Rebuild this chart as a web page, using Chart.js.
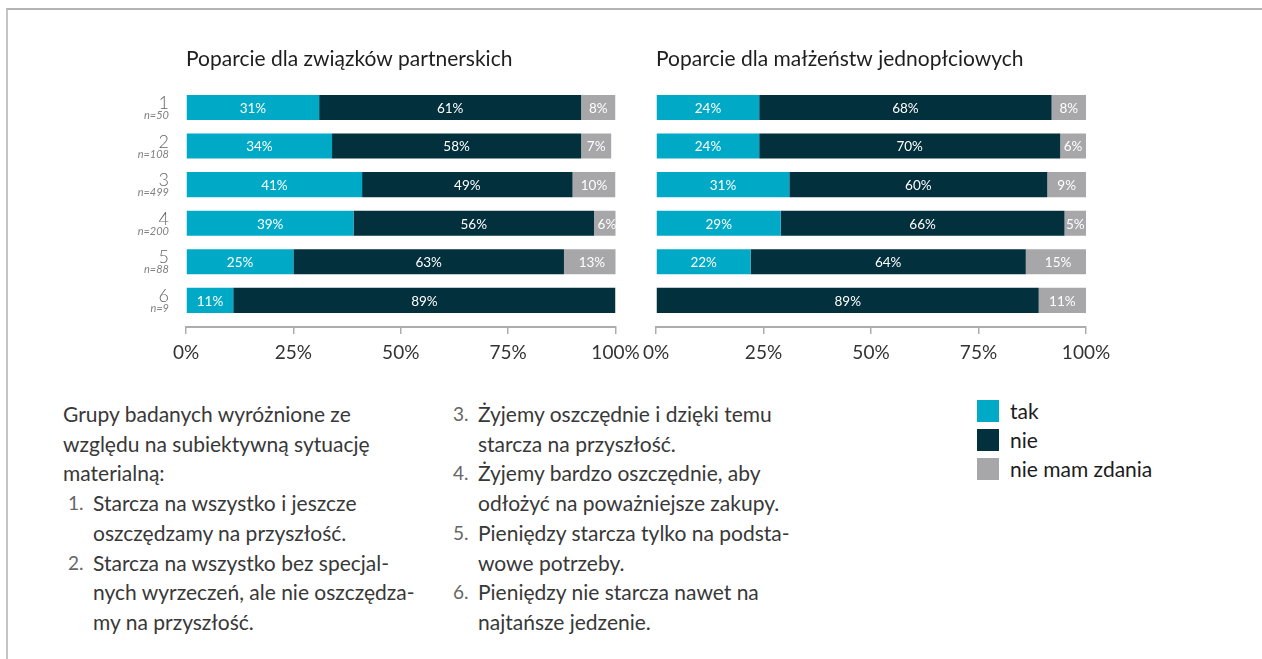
<!DOCTYPE html>
<html lang="pl">
<head>
<meta charset="utf-8">
<script src="https://cdn.jsdelivr.net/npm/chart.js@4"></script>
<style>
  body { margin: 0; background: #fff; font-family: Lato, sans-serif; }
  #page { position: relative; width: 1262px; height: 659px; overflow: hidden; }
  #frame { position: absolute; left: 6px; top: 8px; right: -10px; bottom: -10px;
           border-top: 2px solid #b3b3b3; border-left: 2px solid #c4c4c4; }
  canvas { position: absolute; }
  #left { left: 100px; top: 40px; }
  #right { left: 621px; top: 40px; }
  .col { position: absolute; top: 399px; font-size: 21px; line-height: 29.7px; color: #383838; }
  .col p { margin: 0; }
  .item { position: relative; padding-left: 30px; }
  .item span { position: absolute; left: 5px; color: #666; font-size: 19px; }
  #legend { position: absolute; left: 977px; top: 400px; font-size: 21px; color: #1c1c1c; }
  #legend div { position: relative; height: 29px; padding-left: 33px; line-height: 22px; }
  #legend i { position: absolute; left: 0; top: 0; width: 22px; height: 22px; }
</style>
</head>
<body>
<div id="page">
  <div id="frame"></div>
  <canvas id="left" width="561" height="353"></canvas>
  <canvas id="right" width="511" height="353"></canvas>

  <div class="col" style="left:63px">
    <p>Grupy badanych wyróżnione ze<br>względu na subiektywną sytuację<br>materialną:</p>
    <div class="item"><span>1.</span>Starcza na wszystko i jeszcze<br>oszczędzamy na przyszłość.</div>
    <div class="item"><span>2.</span>Starcza na wszystko bez specjal-<br>nych wyrzeczeń, ale nie oszczędza-<br>my na przyszłość.</div>
  </div>
  <div class="col" style="left:448px">
    <div class="item"><span>3.</span>Żyjemy oszczędnie i dzięki temu<br>starcza na przyszłość.</div>
    <div class="item"><span>4.</span>Żyjemy bardzo oszczędnie, aby<br>odłożyć na poważniejsze zakupy.</div>
    <div class="item"><span>5.</span>Pieniędzy starcza tylko na podsta-<br>wowe potrzeby.</div>
    <div class="item"><span>6.</span>Pieniędzy nie starcza nawet na<br>najtańsze jedzenie.</div>
  </div>
  <div id="legend"></div>
</div>
<script>
// grupy i liczebności
const groups = ["1", "2", "3", "4", "5", "6"];
const sampleSizes = ["n=50", "n=108", "n=499", "n=200", "n=88", "n=9"];

// odpowiedzi
const answers = ["tak", "nie", "nie mam zdania"];
const answerColors = ["#00aac7", "#03303d", "#a7a7aa"];

// Poparcie dla związków partnerskich (%)
const partnersTak = [31, 34, 41, 39, 25, 11];
const partnersNie = [61, 58, 49, 56, 63, 89];
const partnersBrak = [8, 7, 10, 6, 13, 0];

// Poparcie dla małżeństw jednopłciowych (%)
const marriageTak = [24, 24, 31, 29, 22, 0];
const marriageNie = [68, 70, 60, 66, 64, 89];
const marriageBrak = [8, 6, 9, 5, 15, 11];

// legenda
document.getElementById("legend").innerHTML = answers
    .map((a, i) => `<div><i style="background:${answerColors[i]}"></i>${a}</div>`)
    .join("");

// procenty w środku segmentów
const segmentLabels = {
    id: "segmentLabels",
    afterDatasetsDraw(chart) {
        const ctx = chart.ctx;
        ctx.save();
        ctx.font = "13.5px Lato";
        ctx.fillStyle = "#ffffff";
        ctx.textAlign = "center";
        ctx.textBaseline = "middle";
        chart.data.datasets.forEach((ds, i) => {
            chart.getDatasetMeta(i).data.forEach((bar, j) => {
                const v = ds.data[j];
                if (!v) return;
                const p = bar.getProps(["x", "y", "base"], true);
                ctx.fillText(v + "%", (p.x + p.base) / 2, p.y + 1);
            });
        });
        ctx.restore();
    },
};

// etykiety grup (numer + n) po lewej stronie
const groupLabels = {
    id: "groupLabels",
    afterDraw(chart) {
        const ctx = chart.ctx, yScale = chart.scales.y;
        const x = chart.chartArea.left - 17;
        ctx.save();
        ctx.textAlign = "right";
        ctx.textBaseline = "alphabetic";
        groups.forEach((g, i) => {
            const y = yScale.getPixelForValue(i);
            ctx.font = "300 18px Lato";
            ctx.fillStyle = "#666";
            ctx.fillText(g, x, y + 1.5);
            ctx.font = "italic 11px Lato";
            ctx.fillStyle = "#808080";
            ctx.fillText(sampleSizes[i], x, y + 11.5);
        });
        ctx.restore();
    },
};

function makeChart(id, title, tak, nie, brak, padding, extra) {
    return new Chart(document.getElementById(id), {
        type: "bar",
        plugins: [segmentLabels].concat(extra),
        data: {
            labels: groups,
            datasets: [tak, nie, brak].map((d, i) => ({
                label: answers[i],
                data: d,
                backgroundColor: answerColors[i],
                barPercentage: 0.65,
                categoryPercentage: 1,
            })),
        },
        options: {
            indexAxis: "y",
            responsive: false,
            animation: false,
            layout: { padding: padding },
            scales: {
                x: {
                    stacked: true,
                    min: 0,
                    max: 100,
                    // oś trochę poniżej ostatniego słupka
                    position: { y: 5.68 },
                    grid: {
                        drawOnChartArea: false,
                        drawTicks: true,
                        tickLength: 6,
                        color: "#adadad",
                        lineWidth: 1.5,
                    },
                    border: { display: true, color: "#adadad", width: 2 },
                    ticks: {
                        stepSize: 25,
                        padding: 9,
                        color: "#333",
                        font: { family: "Lato", size: 19 },
                        callback: (v) => v + "%",
                    },
                },
                y: { stacked: true, display: false },
            },
            plugins: {
                legend: { display: false },
                tooltip: { enabled: false },
                title: {
                    display: true,
                    text: title,
                    align: "start",
                    fullSize: false,
                    color: "#1e1e1e",
                    font: { family: "Lato", size: 21, weight: "normal" },
                    padding: { top: 7, bottom: 16 },
                },
            },
        },
    });
}

makeChart("left", "Poparcie dla związków partnerskich", partnersTak, partnersNie, partnersBrak,
    { left: 86, right: 45.5, top: 0, bottom: 73.3 }, [groupLabels]);
makeChart("right", "Poparcie dla małżeństw jednopłciowych", marriageTak, marriageNie, marriageBrak,
    { left: 35, right: 46, top: 0, bottom: 73.3 }, []);
</script>
</body>
</html>
